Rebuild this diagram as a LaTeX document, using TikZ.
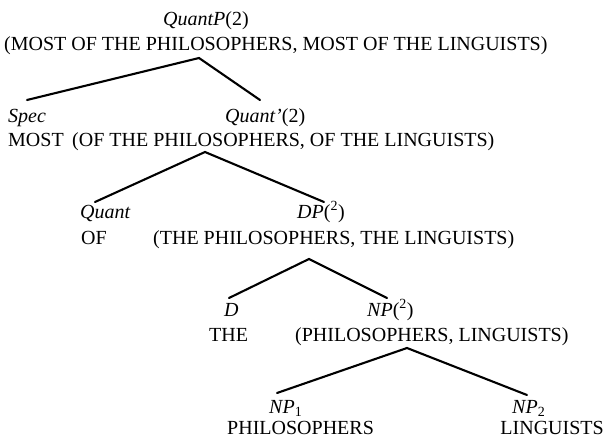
\documentclass[tikz,border=0pt]{standalone}
\usepackage{fontspec}
\setmainfont{Liberation Serif}
\begin{document}
\begin{tikzpicture}[x=1pt,y=-1pt,
  txt/.style={anchor=base west,inner sep=0pt,font=\fontsize{20}{24}\selectfont},
  edge/.style={line width=2.1pt,line cap=round,line join=miter}]
\useasboundingbox (0,0) rectangle (606,439);
% labels
\node[txt] (quantp)   at (163,26)  {\textit{QuantP}(2)};
\node[txt] (mostall)  at (4,50)    {(MOST OF THE PHILOSOPHERS, MOST OF THE LINGUISTS)};
\node[txt] (spec)     at (8,122)   {\textit{Spec}};
\node[txt] (quantbar) at (225,122) {\textit{Quant’}(2)};
\node[txt] (most)     at (8,146)   {MOST};
\node[txt] (ofall)    at (72,146)  {(OF THE PHILOSOPHERS, OF THE LINGUISTS)};
\node[txt] (quant)    at (80,218)  {\textit{Quant}};
\node[txt] (dp)       at (297,218) {\textit{DP}(\textsuperscript{2})};
\node[txt] (of)       at (81,244)  {OF};
\node[txt] (theall)   at (153,244) {(THE PHILOSOPHERS, THE LINGUISTS)};
\node[txt] (d)        at (224,316) {\textit{D}};
\node[txt] (np)       at (367,316) {\textit{NP}(\textsuperscript{2})};
\node[txt] (the)      at (209,341) {THE};
\node[txt] (npall)    at (295,341) {(PHILOSOPHERS, LINGUISTS)};
\node[txt] (npa)      at (269,413) {\textit{NP}\textsubscript{1}};
\node[txt] (npb)      at (512,413) {\textit{NP}\textsubscript{2}};
\node[txt] (phil)     at (227,434) {PHILOSOPHERS};
\node[txt,anchor=base east] (ling) at (604,434) {LINGUISTS};
% branch points
\coordinate (mostall-foot)  at (199,58);
\coordinate (spec-head)     at (27,100);
\coordinate (quantbar-head) at (260,100);
\coordinate (ofall-foot)    at (205,152);
\coordinate (quant-head)    at (95,202);
\coordinate (dp-head)       at (324,202);
\coordinate (theall-foot)   at (309,259);
\coordinate (d-head)        at (229,298);
\coordinate (np-head)       at (387,298);
\coordinate (npall-foot)    at (407,348);
\coordinate (npa-head)      at (277,393);
\coordinate (npb-head)      at (527,395);
% branches
\draw[edge] (spec-head) -- (mostall-foot) -- (quantbar-head);
\draw[edge] (quant-head) -- (ofall-foot) -- (dp-head);
\draw[edge] (d-head) -- (theall-foot) -- (np-head);
\draw[edge] (npa-head) -- (npall-foot) -- (npb-head);
\end{tikzpicture}
\end{document}
